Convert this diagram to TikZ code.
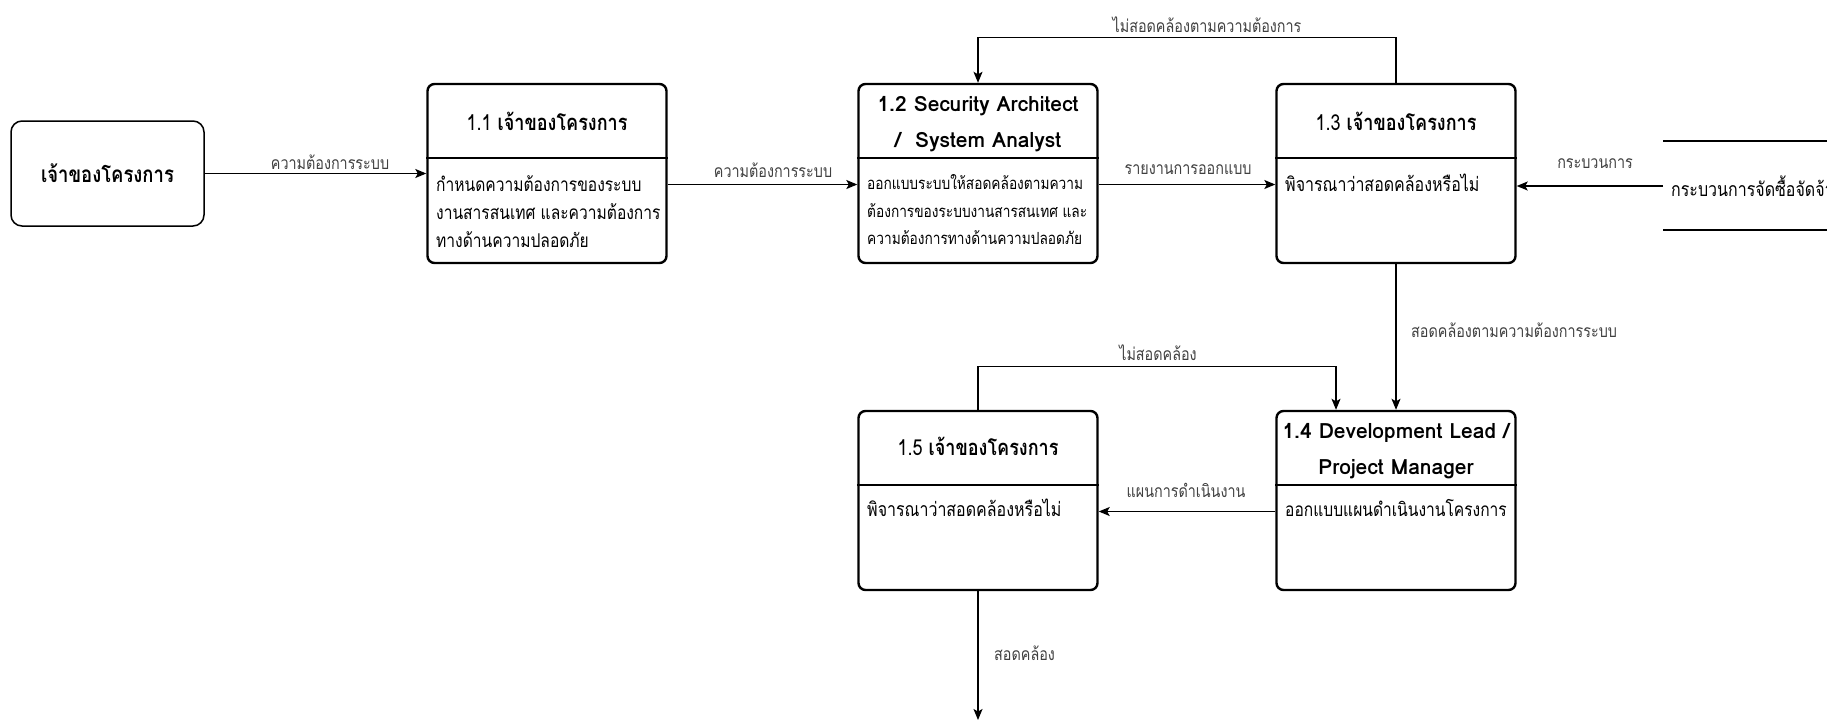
\documentclass[tikz,border=0pt]{standalone}
\usepackage{fontspec}
% Thai text is set narrow and tall; the Latin titles keep natural width
\setmainfont[Script=Thai, FakeStretch=0.82]{Loma}
\newfontfamily\latinfont{Loma}
\usetikzlibrary{arrows.meta}

\begin{document}
\begin{tikzpicture}[x=1pt,y=-1pt,
  procbox/.style={draw, line width=2.4pt, rounded corners=7pt, minimum width=239pt, minimum height=179pt, inner sep=0pt},
  entity/.style={draw, line width=1.5pt, rounded corners=11pt, minimum width=193pt, minimum height=105pt, font=\fontsize{22.5}{26}\selectfont\bfseries},
  divider/.style={line width=2.4pt},
  title/.style={font=\fontsize{22}{26}\selectfont, inner sep=0pt, anchor=base},
  entitle/.style={font=\latinfont\fontsize{21}{26}\selectfont\bfseries, inner sep=0pt, anchor=base},
  body/.style={font=\fontsize{19}{22}\selectfont, inner sep=0pt, anchor=base west},
  smallbody/.style={font=\fontsize{16.7}{20}\selectfont, inner sep=0pt, anchor=base west},
  lbl/.style={font=\fontsize{17.5}{20}\selectfont, text=black!75, inner sep=1pt},
  flow/.style={draw, line width=1.3pt, -{Stealth[length=11pt,width=9pt,inset=2.5pt]}}
]
\useasboundingbox (0,0) rectangle (1827,721);

% external entity
\node[entity] (owner) at (107.5,173.5) {เจ้าของโครงการ};

% process boxes
\node[procbox] (p11) at (547,173.5) {};
\node[procbox] (p12) at (978,173.5) {};
\node[procbox] (p13) at (1396,173.5) {};
\node[procbox] (p14) at (1396,500.5) {};
\node[procbox] (p15) at (978,500.5) {};
\foreach \p in {p11,p12,p13,p14,p15}
  \draw[divider] ([yshift=-75pt]\p.north west) -- ([yshift=-75pt]\p.north east);

% titles
\node[title] (t11) at (547,130) {1.1 \textbf{เจ้าของโครงการ}};
\node[entitle] (t12a) at (978,111) {1.2 Security Architect};
\node[entitle] (t12b) at (978,147) {/~~System Analyst};
\node[title] (t13) at (1396,130) {1.3 \textbf{เจ้าของโครงการ}};
\node[entitle] (t14a) at (1396,438) {1.4 Development Lead /};
\node[entitle] (t14b) at (1396,474) {Project Manager};
\node[title] (t15) at (978,455) {1.5 \textbf{เจ้าของโครงการ}};

% body texts
\node[body] (b11a) at (436,191) {กำหนดความต้องการของระบบ};
\node[body] (b11b) at (436,219) {งานสารสนเทศ และความต้องการ};
\node[body] (b11c) at (436,247) {ทางด้านความปลอดภัย};
\node[smallbody] (b12a) at (867,189) {ออกแบบระบบให้สอดคล้องตามความ};
\node[smallbody] (b12b) at (867,217) {ต้องการของระบบงานสารสนเทศ และ};
\node[smallbody] (b12c) at (867,244) {ความต้องการทางด้านความปลอดภัย};
\node[body,font=\fontsize{19.5}{22}\selectfont] (b13) at (1285,191) {พิจารณาว่าสอดคล้องหรือไม่};
\node[body] (b14) at (1285,516) {ออกแบบแผนดำเนินงานโครงการ};
\node[body,font=\fontsize{19.5}{22}\selectfont] (b15) at (867,516) {พิจารณาว่าสอดคล้องหรือไม่};

% data store, running off the right edge
\begin{scope}
\clip (0,0) rectangle (1827,721);
\draw[line width=1.3pt] (1663,141) -- (1840,141);
\draw[line width=1.3pt] (1663,230) -- (1840,230);
\node[anchor=west, inner xsep=8pt, inner ysep=0pt, font=\fontsize{19.5}{22}\selectfont] (store) at (1663,186) {กระบวนการจัดซื้อจัดจ้าง};
\end{scope}

% flows
\draw[flow] (owner.east) -- (p11.west);
\draw[flow] ([yshift=-11pt]p11.east) -- ([yshift=-11pt]p12.west);
\draw[flow] ([yshift=-11pt]p12.east) -- ([yshift=-11pt]p13.west);
\draw[flow] (p13.north) -- ++(0,-45) -| (p12.north);
\draw[flow] (store.west) -- (store.west -| p13.east);
\draw[flow] (p13.south) -- (p14.north);
\draw[flow] ([yshift=-11pt]p14.west) -- ([yshift=-11pt]p14.west -| p15.east);
\draw[flow] (p15.north) -- ++(0,-43) -| ([xshift=-60pt]p14.north);
\coordinate (exitpt) at (978,720);
\draw[flow] (p15.south) -- (exitpt);

% flow labels
\node[lbl] (l1) at (330,162) {ความต้องการระบบ};
\node[lbl] (l2) at (773,170) {ความต้องการระบบ};
\node[lbl] (l3) at (1188,170) {รายงานการออกแบบ};
\node[lbl] (l4) at (1207,25) {ไม่สอดคล้องตามความต้องการ};
\node[lbl, fill=white] (l5) at (1595,164) {กระบวนการ};
\node[lbl, anchor=west] (l6) at (1410,330) {สอดคล้องตามความต้องการระบบ};
\node[lbl] (l7) at (1186,490) {แผนการดำเนินงาน};
\node[lbl] (l8) at (1158,353) {ไม่สอดคล้อง};
\node[lbl, anchor=west] (l9) at (993,653) {สอดคล้อง};
\end{tikzpicture}
\end{document}
